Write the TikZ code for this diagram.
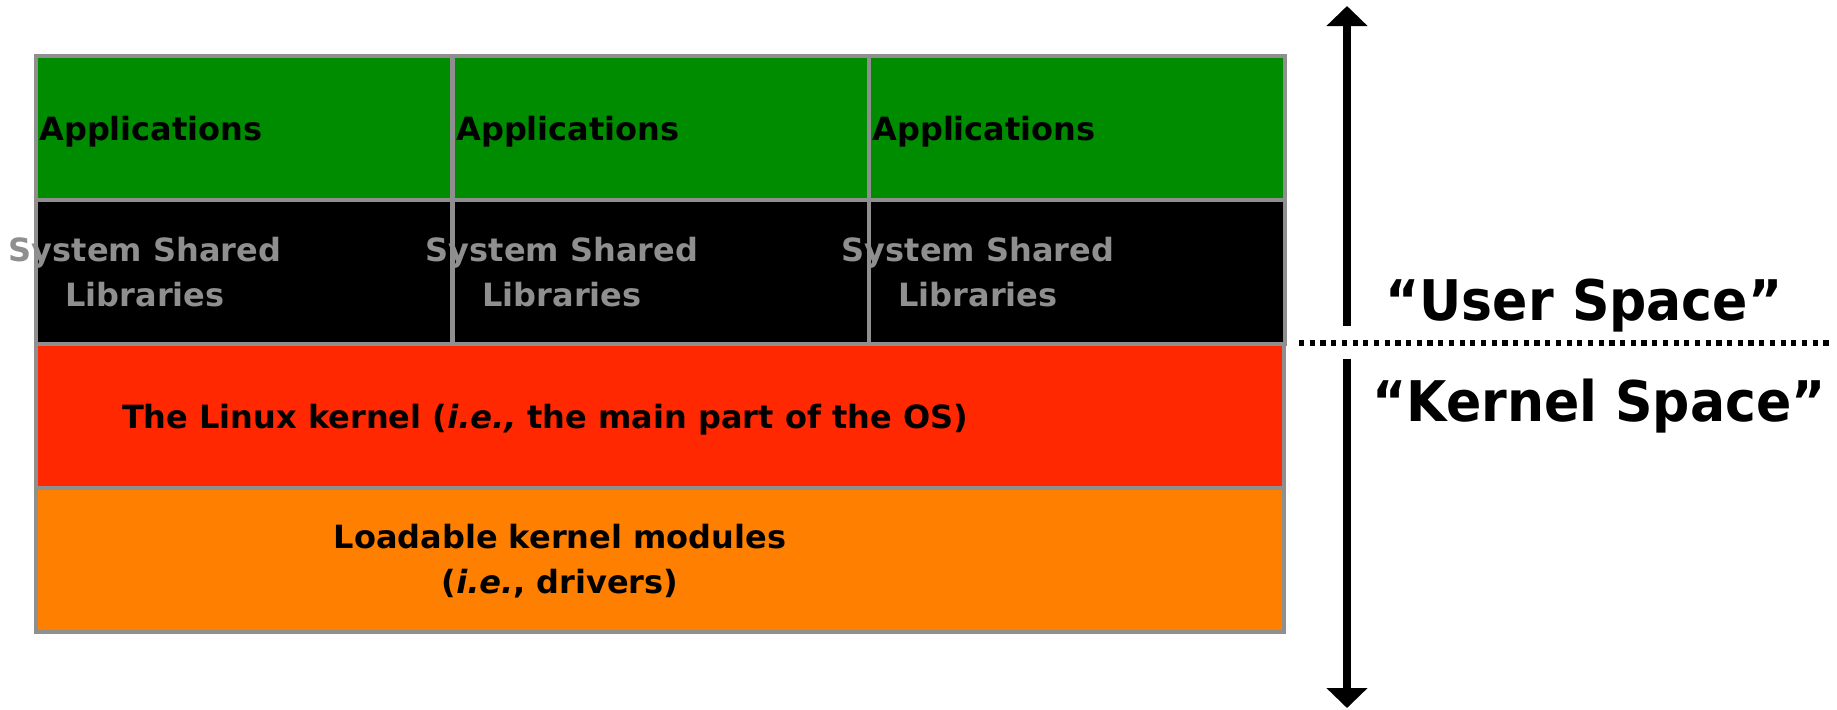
\documentclass[tikz,border=0pt]{standalone}
\usepackage{fontspec}
\setmainfont{DejaVu Sans}
\newfontfamily\spacefont{DejaVu Sans}[FakeStretch=0.93]
\usetikzlibrary{arrows.meta,positioning}
\definecolor{appgreen}{RGB}{0,140,0}
\definecolor{kernred}{RGB}{255,40,0}
\definecolor{modorange}{RGB}{255,127,0}
\definecolor{gridgray}{RGB}{143,143,143}
\tikzset{
  cell/.style={draw=gridgray, line width=1.75pt, inner sep=0pt, anchor=north west,
    minimum height=72pt},
  celltext/.style={inner sep=0pt, font=\fontsize{16}{22.5}\selectfont\bfseries},
  libtext/.style={celltext, text=gridgray, align=center, anchor=base},
  spacetext/.style={inner sep=0pt, anchor=base west, font=\spacefont\fontsize{28}{34}\selectfont\bfseries},
  spacearrow/.style={line width=4pt, -{Triangle[width=20pt,length=10pt]}}
}
\begin{document}
\begin{tikzpicture}[x=0.5pt, y=-0.5pt]
  \useasboundingbox (0,0) rectangle (1837,709);

  % user space: three columns
  \foreach \c/\x in {1/34, 2/451, 3/867} {
    \node[cell, fill=appgreen, minimum width=208pt] (app\c) at (\x,54) {};
    \node[cell, fill=black, minimum width=208pt] (lib\c) at (\x,198) {};
    \node[celltext, anchor=base west] (apptxt\c) at (\x+5,140) {Applications};
    \node[libtext] (libtxt\c) at (\x+111,306) {System Shared\\Libraries};
  }

  % kernel space
  \node[cell, fill=kernred, minimum width=624pt] (kern) at (34,342) {};
  \node[cell, fill=modorange, minimum width=624pt] (mod) at (34,486) {};
  \node[celltext, anchor=base] (kerntxt) at (545,428)
    {The Linux kernel (\textit{i.e.,} the main part of the OS)};
  \node[celltext, align=center, anchor=base] (modtxt) at (560,593)
    {Loadable kernel modules\\(\textit{i.e.}, drivers)};

  % arrows and boundary
  \coordinate (utop) at (1347,6);
  \coordinate (ubot) at (1347,326);
  \coordinate (ktop) at (1347,359);
  \coordinate (kbot) at (1347,708);
  \draw[spacearrow] (ubot) -- (utop);
  \draw[spacearrow] (ktop) -- (kbot);

  \coordinate (bleft) at (1299,343);
  \coordinate (bright) at (1830,343);
  \draw[line width=2.6pt, dash pattern=on 2.6pt off 2.75pt] (bleft) -- (bright);

  \node[spacetext] (usr) at (1385,320) {“User Space”};
  \node[spacetext] (krn) at (1372,421) {“Kernel Space”};
\end{tikzpicture}
\end{document}
